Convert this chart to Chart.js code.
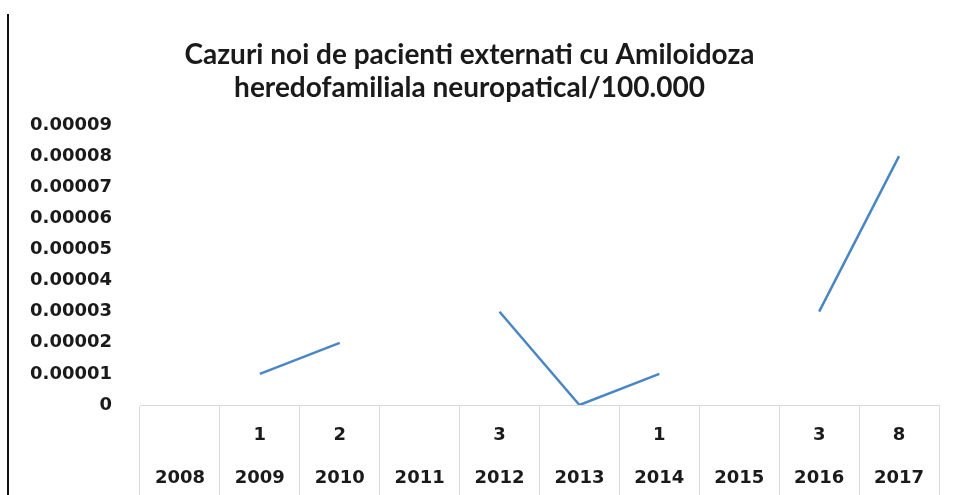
<!DOCTYPE html>
<html>
<head>
<meta charset="utf-8">
<script src="https://cdn.jsdelivr.net/npm/chart.js@4.4.1/dist/chart.umd.min.js"></script>
<style>
  html, body { margin: 0; padding: 0; background: #fff; }
  #wrap { position: relative; width: 959px; height: 495px; }
  #edge { position: absolute; left: 7px; top: 14px; width: 2px; height: 481px; background: #111; }
  canvas { position: absolute; left: 0; top: 0; }
</style>
</head>
<body>
<div id="wrap">
  <canvas id="c" width="959" height="495"></canvas>
  <div id="edge"></div>
</div>
<script>
const titleLines = ['Cazuri noi de pacienti externati cu Amiloidoza', 'heredofamiliala neuropatical/100.000'];
const years = ['2008', '2009', '2010', '2011', '2012', '2013', '2014', '2015', '2016', '2017'];
const caseCounts = [null, 1, 2, null, 3, null, 1, null, 3, 8];
const ratePer100k = [null, 0.00001, 0.00002, null, 0.00003, 0, 0.00001, null, 0.00003, 0.00008];
const yMin = 0, yMax = 0.00009, yStep = 0.00001;

const xLabels = years.map((y, i) => [caseCounts[i] == null ? '' : String(caseCounts[i]), y]);

new Chart(document.getElementById('c'), {
  type: 'line',
  data: {
    labels: xLabels,
    datasets: [{
      data: ratePer100k,
      borderColor: '#4a86c4',
      borderWidth: 2.5,
      pointRadius: 0,
      spanGaps: false,
      tension: 0
    }]
  },
  options: {
    responsive: false,
    animation: false,
    layout: { padding: { left: 0, right: 20, top: 0, bottom: 0 } },
    plugins: {
      legend: { display: false },
      tooltip: { enabled: false },
      title: {
        display: true,
        text: titleLines,
        color: '#1a1a1a',
        font: { family: 'Lato', size: 28, weight: 'bold', lineHeight: 1.18 },
        padding: { top: 38.5, bottom: 20.5 }
      }
    },
    scales: {
      x: {
        offset: true,
        grid: { offset: true, drawOnChartArea: false, drawTicks: true, tickLength: 90, color: '#d9d9d9', lineWidth: 1 },
        border: { display: true, color: '#d9d9d9', width: 1 },
        ticks: {
          color: '#1a1a1a',
          padding: -81.5,
          maxRotation: 0,
          autoSkip: false,
          font: { family: 'DejaVu Sans', size: 18, weight: 'bold', lineHeight: 2.39 }
        },
        afterFit: (s) => { s.height = 90; }
      },
      y: {
        min: yMin,
        max: yMax,
        grid: { display: false, drawTicks: false },
        border: { display: false },
        ticks: {
          stepSize: yStep,
          padding: 28,
          color: '#1a1a1a',
          font: { family: 'DejaVu Sans', size: 18, weight: 'bold' },
          callback: (v) => (Math.abs(v) < 1e-12 ? '0' : Number(v).toFixed(5))
        },
        afterFit: (s) => { s.width = 140; }
      }
    }
  }
});
</script>
</body>
</html>
